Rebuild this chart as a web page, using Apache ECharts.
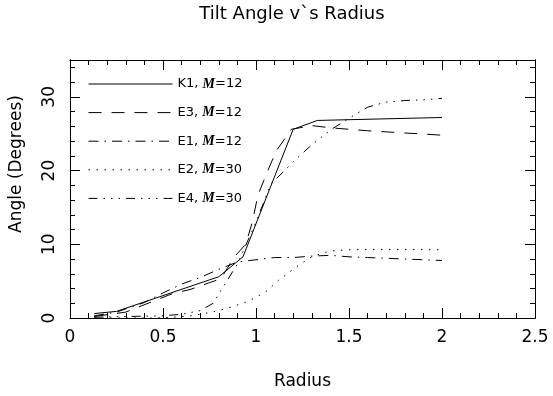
<!DOCTYPE html>
<html>
<head>
<meta charset="utf-8">
<script src="https://cdn.jsdelivr.net/npm/echarts@6/dist/echarts.min.js"></script>
<style>
  html, body {margin: 0; padding: 0; background: #fff;}
  #chart {width: 553px; height: 396px;}
</style>
</head>
<body>
<div id="chart"></div>
<script>
// radius / angle readings for each run
const radiusK1 = [0.13, 0.25, 0.8, 0.93, 1.2, 1.33, 2.0];
const angleK1 = [0.6, 0.9, 5.6, 8.3, 25.6, 26.8, 27.2];

const radiusE3 = [0.13, 0.3, 0.45, 0.55, 0.65, 0.75, 0.81, 0.85, 0.88, 0.945, 0.98, 1.01, 1.06, 1.11, 1.19, 1.3, 1.4, 1.6, 1.8, 2.0];
const angleE3 = [0.2, 0.8, 2.3, 3.3, 3.9, 4.8, 5.3, 6.9, 8.2, 10.0, 13.0, 16.6, 19.8, 22.7, 25.6, 26.1, 25.8, 25.4, 25.1, 24.8];

const radiusE1 = [0.13, 0.25, 0.4, 0.5, 0.6, 0.7, 0.8, 0.9, 1.0, 1.1, 1.2, 1.3, 1.4, 1.5, 1.6, 1.7, 1.8, 1.9, 2.0];
const angleE1 = [0.3, 0.8, 2.1, 3.4, 4.6, 5.5, 6.6, 7.6, 7.9, 8.2, 8.2, 8.4, 8.5, 8.3, 8.2, 8.1, 8.0, 7.9, 7.8];

const radiusE2 = [0.13, 0.45, 0.55, 0.65, 0.72, 0.8, 0.88, 0.94, 1.0, 1.06, 1.12, 1.2, 1.24, 1.3, 1.36, 1.4, 1.5, 1.6, 1.8, 2.0];
const angleE2 = [0.0, 0.0, 0.1, 0.3, 0.6, 1.0, 1.6, 2.1, 2.8, 3.7, 5.1, 6.6, 7.35, 8.3, 8.8, 9.1, 9.25, 9.3, 9.3, 9.25];

const radiusE4 = [0.13, 0.3, 0.5, 0.6, 0.7, 0.77, 0.83, 0.9, 1.0, 1.08, 1.15, 1.2, 1.3, 1.4, 1.5, 1.6, 1.7, 1.8, 1.9, 2.0];
const angleE4 = [0.1, 0.2, 0.3, 0.5, 1.0, 2.0, 4.5, 7.3, 13.0, 18.2, 19.9, 21.2, 23.5, 25.5, 27.1, 28.6, 29.3, 29.5, 29.6, 29.8];

const runNames = ['K1', 'E3', 'E1', 'E2', 'E4'];
const mValues = [12, 12, 12, 30, 30];

const xTickLabels = ['0', '0.5', '1', '1.5', '2', '2.5'];
const yTickLabels = ['0', '10', '20', '30'];

const zip = (xs, ys) => xs.map((x, i) => [x, ys[i]]);
const runData = {
  K1: zip(radiusK1, angleK1),
  E3: zip(radiusE3, angleE3),
  E1: zip(radiusE1, angleE1),
  E2: zip(radiusE2, angleE2),
  E4: zip(radiusE4, angleE4)
};
// dash patterns: solid, dashed, dash-dot, dotted, dash-dot-dot-dot
const dashes = {
  K1: 'solid',
  E3: [13, 10],
  E1: [10, 6, 1.5, 6],
  E2: [1.5, 6.5],
  E4: [9, 6, 1.5, 6, 1.5, 6, 1.5, 6]
};

const font = 'DejaVu Sans';
const black = '#000';

function tickAxis(pos, interval, len) {
  const isX = pos === 'top' || pos === 'bottom';
  return {
    type: 'value',
    position: pos,
    min: 0,
    max: isX ? 2.5 : 35,
    interval: interval,
    axisLine: {show: true, onZero: false, lineStyle: {color: black, width: 1}},
    axisTick: {show: true, inside: true, length: len, lineStyle: {color: black}},
    splitLine: {show: false},
    axisLabel: {show: false}
  };
}

const chart = echarts.init(document.getElementById('chart'));

const xBottom = tickAxis('bottom', 0.5, 10);
xBottom.minorTick = {show: true, splitNumber: 5, length: 5, lineStyle: {color: black}};
xBottom.axisLabel = {
  show: true, fontFamily: font, fontSize: 17, color: black, margin: 11,
  formatter: (v) => xTickLabels[Math.round(v / 0.5)]
};
xBottom.name = 'Radius';
xBottom.nameLocation = 'middle';
xBottom.nameGap = 55;
xBottom.nameTextStyle = {fontFamily: font, fontSize: 17, color: black};

const xTop = tickAxis('top', 0.5, 10);
xTop.minorTick = {show: true, splitNumber: 5, length: 5, lineStyle: {color: black}};

const yLeft = tickAxis('left', 10, 10);
yLeft.axisLabel = {
  show: true, fontFamily: font, fontSize: 17, color: black, rotate: 90, margin: 12,
  showMaxLabel: false,
  formatter: (v) => yTickLabels[Math.round(v / 10)] || ''
};
yLeft.name = 'Angle (Degrees)';
yLeft.nameLocation = 'middle';
yLeft.nameGap = 45;
yLeft.nameTextStyle = {fontFamily: font, fontSize: 17, color: black, padding: [0, 0, 0, 50]};

const yLeftMinor = tickAxis('left', 2, 5);
const yRight = tickAxis('right', 10, 10);
const yRightMinor = tickAxis('right', 2, 5);

chart.setOption({
  animation: false,
  backgroundColor: '#fff',
  title: {
    text: 'Tilt Angle v`s Radius',
    left: 287,
    textAlign: 'center',
    top: 0,
    textStyle: {fontFamily: font, fontSize: 18, fontWeight: 'normal', color: black}
  },
  grid: {left: 70, right: 18, top: 60, bottom: 78},
  legend: {
    orient: 'vertical',
    left: 88,
    top: 77,
    padding: 0,
    itemWidth: 84,
    itemHeight: 14,
    itemGap: 14.6,
    data: runNames,
    itemStyle: {opacity: 0},
    lineStyle: {width: 1},
    formatter: (name) => '{t|' + name + ', }{m|M}{t|=' + mValues[runNames.indexOf(name)] + '}',
    textStyle: {
      color: black,
      fontFamily: font,
      fontSize: 13,
      rich: {
        t: {fontFamily: font, fontSize: 13, color: black},
        m: {fontFamily: 'Liberation Serif', fontSize: 14, fontStyle: 'italic', fontWeight: 'bold', color: black}
      }
    }
  },
  xAxis: [xBottom, xTop],
  yAxis: [yLeft, yLeftMinor, yRight, yRightMinor],
  series: runNames.map((name) => ({
    name: name,
    type: 'line',
    xAxisIndex: 0,
    yAxisIndex: 0,
    symbol: 'none',
    lineStyle: {color: black, width: 1, type: dashes[name]},
    itemStyle: {color: black},
    data: runData[name]
  }))
});
</script>
</body>
</html>
